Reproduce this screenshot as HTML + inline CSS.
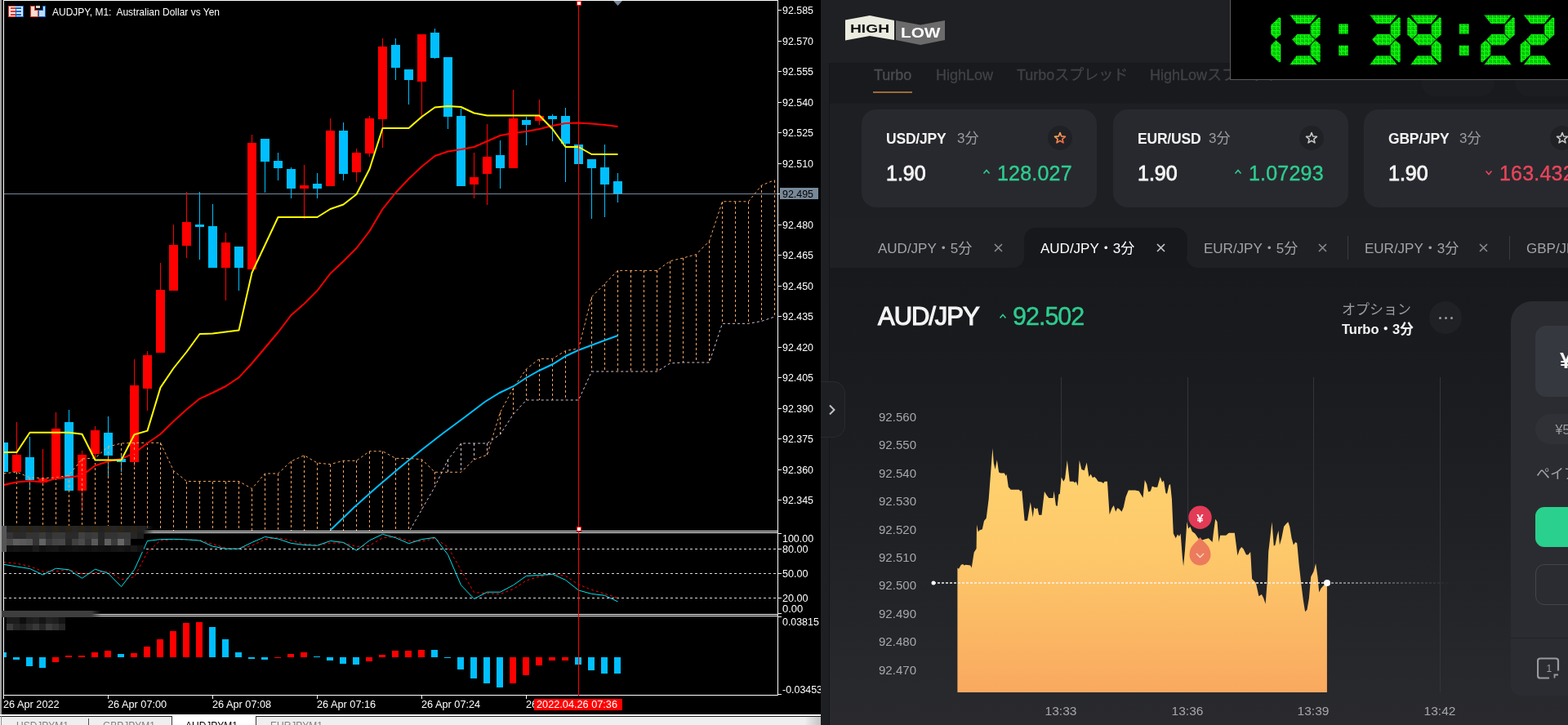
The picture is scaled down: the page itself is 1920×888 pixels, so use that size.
<!DOCTYPE html>
<html><head><meta charset="utf-8"><title>AUDJPY chart and HighLow</title>
<style>
html,body{margin:0;padding:0;width:1920px;height:888px;overflow:hidden;background:#000}

#R{position:absolute;left:1005px;top:0;width:915px;height:888px;overflow:hidden;font-family:"Liberation Sans","Noto Sans CJK JP",sans-serif;}
#R div{box-sizing:border-box}
.hdr{position:absolute;left:0;top:0;width:915px;height:77px;background:#1f2024}
.nav{position:absolute;left:0;top:77px;width:915px;height:190px;background:linear-gradient(#17181b 0px,#191a1d 2px,#191a1d 49px,#1e1f23 51px)}
.navt{position:absolute;top:80px;font-size:18px;color:#414246;line-height:24px;-webkit-text-stroke:0.3px currentColor;white-space:nowrap;font-family:"Liberation Sans","Noto Sans CJK JP",sans-serif}
.ghost{position:absolute;border-radius:17px;background:#1c1d20}
.card{position:absolute;top:134px;width:288px;height:120px;border-radius:18px;background:#28292e}
.cname{position:absolute;top:159px;font-size:17.5px;font-weight:bold;color:#f2f2f2;line-height:22px;letter-spacing:-0.2px}
.cmin{position:absolute;top:159px;font-size:17px;color:#9c9c9f;line-height:22px;font-family:"Liberation Sans","Noto Sans CJK JP",sans-serif}
.cpay{position:absolute;top:198px;font-size:25px;font-weight:normal;color:#f4f4f4;line-height:28px;-webkit-text-stroke:0.85px #f4f4f4}
.cprice{position:absolute;top:198px;font-size:25px;line-height:28px;letter-spacing:0.2px;-webkit-text-stroke:0.4px currentColor}
.starc{position:absolute;top:154px;width:30px;height:30px;border-radius:50%;background:#202125}
.tabrow{position:absolute;left:10px;top:267px;width:905px;height:61px;background:#1f2024}
.tabact{position:absolute;left:249px;top:279px;width:200px;height:60px;border-radius:14px 14px 0 0;background:#17181b}
.tabcorner{position:absolute;top:314px;width:14px;height:14px;background:radial-gradient(circle at 0 0, #1f2024 13.5px, #17181b 14.5px)}
.tabcorner2{position:absolute;top:314px;width:14px;height:14px;background:radial-gradient(circle at 14px 0, #1f2024 13.5px, #17181b 14.5px)}
.tabt{position:absolute;top:294px;font-size:17px;line-height:22px;white-space:nowrap;font-family:"Liberation Sans","Noto Sans CJK JP",sans-serif}
.main{position:absolute;left:10px;top:328px;width:905px;height:560px;background:linear-gradient(#18191c 0px,#1a1b1f 130px,#202125 330px,#28292d 520px,#29292e 560px)}
.side{position:absolute;left:0;top:77px;width:11px;height:811px;background:#1e1f23;border-right:1px solid #151619}
.expand{position:absolute;left:0;top:467px;width:30px;height:69px;border-radius:0 15px 15px 0;background:#1e1f23;border:1px solid #2a2b2f;border-left:none}
.pair{position:absolute;left:70px;top:370px;font-size:31px;font-weight:normal;color:#f4f4f4;line-height:36px;letter-spacing:-1.05px;-webkit-text-stroke:1.15px #f4f4f4}
.pprice{position:absolute;left:235px;top:370px;font-size:30.5px;color:#2ecc8f;line-height:34px;letter-spacing:-1px;-webkit-text-stroke:0.45px #2ecc8f}
.opt1{position:absolute;left:638px;top:368.5px;font-size:17px;color:#9c9c9f;line-height:22px;font-family:"Liberation Sans","Noto Sans CJK JP",sans-serif}
.opt2{position:absolute;left:638px;top:392px;font-size:16.5px;font-weight:bold;color:#f4f4f4;line-height:22px;white-space:nowrap;font-family:"Liberation Sans","Noto Sans CJK JP",sans-serif}
.dots{position:absolute;left:745px;top:369px;width:40px;height:40px;border-radius:50%;background:#202125}
.dots span{position:absolute;top:19px;width:3px;height:3px;border-radius:50%;background:#9a9a9a}
.dots span:nth-child(1){left:12px}.dots span:nth-child(2){left:19px}.dots span:nth-child(3){left:26px}
.rcard{position:absolute;left:845px;top:369px;width:120px;height:483px;border-radius:26px 0 0 12px;background:#2b2c31}
.rin1{position:absolute;left:875px;top:399px;width:80px;height:87px;border-radius:13px;background:#36383f}
.rin1 span{position:absolute;left:30px;top:28px;font-size:27px;font-weight:bold;color:#f4f4f4}
.rpill{position:absolute;left:875px;top:507px;width:80px;height:37px;border-radius:19px;background:#303137;color:#9c9c9f;font-size:16px;line-height:40px;padding-left:24.5px}
.rlab{position:absolute;left:876px;top:570px;font-size:17px;color:#a3a3a6;line-height:22px;white-space:nowrap;font-family:"Liberation Sans","Noto Sans CJK JP",sans-serif}
.rgreen{position:absolute;left:875px;top:621px;width:80px;height:49px;border-radius:11px;background:#2ad08d}
.rout{position:absolute;left:875px;top:691px;width:80px;height:50px;border-radius:11px;border:1px solid #45464c}
.rdiv{position:absolute;left:845px;top:781px;width:80px;height:1px;background:#222327}
#clock{position:absolute;left:1506px;top:0;width:414px;height:98px;background:#000;border-left:1px solid #5a5a5a;border-bottom:1px solid #5a5a5a;box-sizing:border-box;overflow:hidden}

</style></head><body>
<svg width="1005" height="888" viewBox="0 0 1005 888" style="position:absolute;left:0;top:0;display:block">
<defs><clipPath id="cm"><rect x="5" y="1" width="947" height="649"/></clipPath><clipPath id="cs"><rect x="5" y="653" width="947" height="99"/></clipPath><clipPath id="cd"><rect x="5" y="755" width="947" height="96"/></clipPath><linearGradient id="fadeR" x1="0" x2="1" y1="0" y2="0"><stop offset="0" stop-color="#262626" stop-opacity="1"/><stop offset="1" stop-color="#262626" stop-opacity="0"/></linearGradient><linearGradient id="fadeB" x1="0" x2="1" y1="0" y2="0"><stop offset="0" stop-color="#3e3e3e" stop-opacity="1"/><stop offset="1" stop-color="#3e3e3e" stop-opacity="0"/></linearGradient><linearGradient id="sbg" x1="0" x2="1" y1="0" y2="0"><stop offset="0" stop-color="#efefef"/><stop offset="1" stop-color="#c4c4c4"/></linearGradient></defs>
<rect x="0" y="0" width="1005" height="888" fill="#000"/>
<rect x="0" y="0" width="2" height="876" fill="#a0a0a0"/>
<g shape-rendering="crispEdges" fill="#fff">
<rect x="4" y="0" width="949" height="1"/>
<rect x="4" y="0" width="1" height="852"/>
<rect x="952" y="0" width="1" height="852"/>
<rect x="4" y="650" width="949" height="1"/>
<rect x="4" y="652" width="949" height="1"/>
<rect x="4" y="752" width="949" height="1"/>
<rect x="4" y="754" width="949" height="1"/>
<rect x="4" y="851" width="949" height="1"/>
</g>
<g clip-path="url(#cm)">
<rect x="5" y="237" width="947" height="1" fill="#778899" shape-rendering="crispEdges"/>
<g shape-rendering="crispEdges">
<rect x="4" y="542" width="1" height="36" fill="#00bfff"/>
<rect x="-1" y="542" width="11" height="36" fill="#00bfff"/>
<rect x="20" y="517" width="1" height="61" fill="#ff0000"/>
<rect x="15" y="557" width="11" height="21" fill="#ff0000"/>
<rect x="36" y="535" width="1" height="63" fill="#00bfff"/>
<rect x="31" y="560" width="11" height="28" fill="#00bfff"/>
<rect x="52" y="550" width="1" height="42" fill="#ff0000"/>
<rect x="47" y="586" width="11" height="5" fill="#ff0000"/>
<rect x="68" y="505" width="1" height="82" fill="#ff0000"/>
<rect x="63" y="525" width="11" height="62" fill="#ff0000"/>
<rect x="84" y="502" width="1" height="100" fill="#00bfff"/>
<rect x="79" y="517" width="11" height="84" fill="#00bfff"/>
<rect x="100" y="552" width="1" height="74" fill="#ff0000"/>
<rect x="95" y="557" width="11" height="44" fill="#ff0000"/>
<rect x="116" y="522" width="1" height="39" fill="#ff0000"/>
<rect x="111" y="527" width="11" height="29" fill="#ff0000"/>
<rect x="132" y="510" width="1" height="73" fill="#00bfff"/>
<rect x="127" y="530" width="11" height="28" fill="#00bfff"/>
<rect x="148" y="557" width="1" height="21" fill="#00bfff"/>
<rect x="143" y="562" width="11" height="4" fill="#00bfff"/>
<rect x="164" y="440" width="1" height="131" fill="#ff0000"/>
<rect x="159" y="472" width="11" height="94" fill="#ff0000"/>
<rect x="180" y="430" width="1" height="73" fill="#ff0000"/>
<rect x="175" y="435" width="11" height="41" fill="#ff0000"/>
<rect x="196" y="322" width="1" height="110" fill="#ff0000"/>
<rect x="191" y="355" width="11" height="77" fill="#ff0000"/>
<rect x="212" y="275" width="1" height="81" fill="#ff0000"/>
<rect x="207" y="300" width="11" height="56" fill="#ff0000"/>
<rect x="228" y="235" width="1" height="81" fill="#ff0000"/>
<rect x="223" y="272" width="11" height="29" fill="#ff0000"/>
<rect x="244" y="235" width="1" height="83" fill="#00bfff"/>
<rect x="239" y="275" width="11" height="3" fill="#00bfff"/>
<rect x="260" y="250" width="1" height="78" fill="#00bfff"/>
<rect x="255" y="277" width="11" height="51" fill="#00bfff"/>
<rect x="276" y="285" width="1" height="83" fill="#ff0000"/>
<rect x="271" y="297" width="11" height="31" fill="#ff0000"/>
<rect x="292" y="302" width="1" height="54" fill="#00bfff"/>
<rect x="287" y="302" width="11" height="26" fill="#00bfff"/>
<rect x="308" y="165" width="1" height="165" fill="#ff0000"/>
<rect x="303" y="175" width="11" height="155" fill="#ff0000"/>
<rect x="324" y="170" width="1" height="66" fill="#00bfff"/>
<rect x="319" y="170" width="11" height="28" fill="#00bfff"/>
<rect x="340" y="187" width="1" height="34" fill="#00bfff"/>
<rect x="335" y="197" width="11" height="9" fill="#00bfff"/>
<rect x="356" y="205" width="1" height="38" fill="#00bfff"/>
<rect x="351" y="207" width="11" height="24" fill="#00bfff"/>
<rect x="372" y="202" width="1" height="66" fill="#ff0000"/>
<rect x="367" y="227" width="11" height="4" fill="#ff0000"/>
<rect x="388" y="212" width="1" height="31" fill="#00bfff"/>
<rect x="383" y="225" width="11" height="6" fill="#00bfff"/>
<rect x="404" y="145" width="1" height="83" fill="#ff0000"/>
<rect x="399" y="160" width="11" height="68" fill="#ff0000"/>
<rect x="420" y="150" width="1" height="71" fill="#00bfff"/>
<rect x="415" y="160" width="11" height="53" fill="#00bfff"/>
<rect x="436" y="182" width="1" height="41" fill="#ff0000"/>
<rect x="431" y="187" width="11" height="24" fill="#ff0000"/>
<rect x="452" y="142" width="1" height="50" fill="#ff0000"/>
<rect x="447" y="145" width="11" height="43" fill="#ff0000"/>
<rect x="468" y="47" width="1" height="134" fill="#ff0000"/>
<rect x="463" y="57" width="11" height="89" fill="#ff0000"/>
<rect x="484" y="47" width="1" height="51" fill="#00bfff"/>
<rect x="479" y="55" width="11" height="28" fill="#00bfff"/>
<rect x="500" y="85" width="1" height="43" fill="#00bfff"/>
<rect x="495" y="85" width="11" height="13" fill="#00bfff"/>
<rect x="516" y="42" width="1" height="103" fill="#ff0000"/>
<rect x="511" y="42" width="11" height="58" fill="#ff0000"/>
<rect x="532" y="35" width="1" height="37" fill="#00bfff"/>
<rect x="527" y="40" width="11" height="31" fill="#00bfff"/>
<rect x="548" y="70" width="1" height="88" fill="#00bfff"/>
<rect x="543" y="70" width="11" height="73" fill="#00bfff"/>
<rect x="564" y="133" width="1" height="95" fill="#00bfff"/>
<rect x="559" y="142" width="11" height="86" fill="#00bfff"/>
<rect x="580" y="187" width="1" height="56" fill="#ff0000"/>
<rect x="575" y="217" width="11" height="9" fill="#ff0000"/>
<rect x="596" y="152" width="1" height="99" fill="#ff0000"/>
<rect x="591" y="192" width="11" height="21" fill="#ff0000"/>
<rect x="612" y="172" width="1" height="59" fill="#00bfff"/>
<rect x="607" y="190" width="11" height="16" fill="#00bfff"/>
<rect x="628" y="110" width="1" height="96" fill="#ff0000"/>
<rect x="623" y="145" width="11" height="61" fill="#ff0000"/>
<rect x="644" y="143" width="1" height="35" fill="#00bfff"/>
<rect x="639" y="147" width="11" height="6" fill="#00bfff"/>
<rect x="660" y="122" width="1" height="31" fill="#ff0000"/>
<rect x="655" y="142" width="11" height="6" fill="#ff0000"/>
<rect x="676" y="140" width="1" height="33" fill="#00bfff"/>
<rect x="671" y="142" width="11" height="4" fill="#00bfff"/>
<rect x="692" y="132" width="1" height="91" fill="#00bfff"/>
<rect x="687" y="142" width="11" height="34" fill="#00bfff"/>
<rect x="708" y="177" width="1" height="24" fill="#00bfff"/>
<rect x="703" y="177" width="11" height="24" fill="#00bfff"/>
<rect x="724" y="195" width="1" height="73" fill="#00bfff"/>
<rect x="719" y="195" width="11" height="11" fill="#00bfff"/>
<rect x="740" y="177" width="1" height="89" fill="#00bfff"/>
<rect x="735" y="205" width="11" height="21" fill="#00bfff"/>
<rect x="756" y="212" width="1" height="36" fill="#00bfff"/>
<rect x="751" y="222" width="11" height="15" fill="#00bfff"/>
</g>
<g stroke-width="1" stroke-dasharray="3 3" fill="none" shape-rendering="crispEdges">
<line x1="4.5" y1="580.0" x2="4.5" y2="651.0" stroke="#f4a460"/>
<line x1="20.5" y1="578.0" x2="20.5" y2="651.0" stroke="#f4a460"/>
<line x1="36.5" y1="585.0" x2="36.5" y2="651.0" stroke="#f4a460"/>
<line x1="52.5" y1="585.5" x2="52.5" y2="651.0" stroke="#f4a460"/>
<line x1="68.5" y1="585.0" x2="68.5" y2="651.0" stroke="#f4a460"/>
<line x1="84.5" y1="582.0" x2="84.5" y2="651.0" stroke="#f4a460"/>
<line x1="100.5" y1="562.0" x2="100.5" y2="651.0" stroke="#f4a460"/>
<line x1="116.5" y1="561.0" x2="116.5" y2="651.0" stroke="#f4a460"/>
<line x1="132.5" y1="547.0" x2="132.5" y2="651.0" stroke="#f4a460"/>
<line x1="148.5" y1="543.0" x2="148.5" y2="651.0" stroke="#f4a460"/>
<line x1="164.5" y1="542.4" x2="164.5" y2="651.0" stroke="#f4a460"/>
<line x1="180.5" y1="542.4" x2="180.5" y2="651.0" stroke="#f4a460"/>
<line x1="196.5" y1="542.4" x2="196.5" y2="651.0" stroke="#f4a460"/>
<line x1="212.5" y1="576.5" x2="212.5" y2="651.0" stroke="#f4a460"/>
<line x1="228.5" y1="589.5" x2="228.5" y2="651.0" stroke="#f4a460"/>
<line x1="244.5" y1="589.5" x2="244.5" y2="651.0" stroke="#f4a460"/>
<line x1="260.5" y1="589.5" x2="260.5" y2="651.0" stroke="#f4a460"/>
<line x1="276.5" y1="589.5" x2="276.5" y2="651.0" stroke="#f4a460"/>
<line x1="292.5" y1="589.5" x2="292.5" y2="651.0" stroke="#f4a460"/>
<line x1="308.5" y1="598.5" x2="308.5" y2="651.0" stroke="#f4a460"/>
<line x1="324.5" y1="580.0" x2="324.5" y2="651.0" stroke="#f4a460"/>
<line x1="340.5" y1="580.0" x2="340.5" y2="651.0" stroke="#f4a460"/>
<line x1="356.5" y1="565.0" x2="356.5" y2="651.0" stroke="#f4a460"/>
<line x1="372.5" y1="557.7" x2="372.5" y2="651.0" stroke="#f4a460"/>
<line x1="388.5" y1="567.0" x2="388.5" y2="651.0" stroke="#f4a460"/>
<line x1="404.5" y1="568.6" x2="404.5" y2="651.0" stroke="#f4a460"/>
<line x1="420.5" y1="564.3" x2="420.5" y2="651.0" stroke="#f4a460"/>
<line x1="436.5" y1="564.3" x2="436.5" y2="651.0" stroke="#f4a460"/>
<line x1="452.5" y1="552.7" x2="452.5" y2="651.0" stroke="#f4a460"/>
<line x1="468.5" y1="552.7" x2="468.5" y2="651.0" stroke="#f4a460"/>
<line x1="484.5" y1="561.4" x2="484.5" y2="651.0" stroke="#f4a460"/>
<line x1="500.5" y1="561.4" x2="500.5" y2="651.0" stroke="#f4a460"/>
<line x1="516.5" y1="562.7" x2="516.5" y2="624.0" stroke="#f4a460"/>
<line x1="532.5" y1="578.3" x2="532.5" y2="596.0" stroke="#f4a460"/>
<line x1="548.5" y1="563.0" x2="548.5" y2="578.3" stroke="#d8bfd8"/>
<line x1="564.5" y1="543.0" x2="564.5" y2="578.3" stroke="#d8bfd8"/>
<line x1="580.5" y1="543.0" x2="580.5" y2="562.9" stroke="#d8bfd8"/>
<line x1="596.5" y1="543.0" x2="596.5" y2="557.2" stroke="#d8bfd8"/>
<line x1="612.5" y1="505.0" x2="612.5" y2="532.0" stroke="#f4a460"/>
<line x1="628.5" y1="475.4" x2="628.5" y2="507.4" stroke="#f4a460"/>
<line x1="644.5" y1="451.9" x2="644.5" y2="490.0" stroke="#f4a460"/>
<line x1="660.5" y1="439.5" x2="660.5" y2="490.0" stroke="#f4a460"/>
<line x1="676.5" y1="439.5" x2="676.5" y2="490.0" stroke="#f4a460"/>
<line x1="692.5" y1="429.6" x2="692.5" y2="490.0" stroke="#f4a460"/>
<line x1="708.5" y1="427.0" x2="708.5" y2="490.0" stroke="#f4a460"/>
<line x1="724.5" y1="363.8" x2="724.5" y2="455.0" stroke="#f4a460"/>
<line x1="740.5" y1="347.6" x2="740.5" y2="455.0" stroke="#f4a460"/>
<line x1="756.5" y1="331.4" x2="756.5" y2="455.0" stroke="#f4a460"/>
<line x1="772.5" y1="331.4" x2="772.5" y2="455.0" stroke="#f4a460"/>
<line x1="788.5" y1="331.4" x2="788.5" y2="455.0" stroke="#f4a460"/>
<line x1="804.5" y1="331.4" x2="804.5" y2="455.0" stroke="#f4a460"/>
<line x1="820.5" y1="319.7" x2="820.5" y2="445.0" stroke="#f4a460"/>
<line x1="836.5" y1="316.0" x2="836.5" y2="444.0" stroke="#f4a460"/>
<line x1="852.5" y1="311.6" x2="852.5" y2="444.0" stroke="#f4a460"/>
<line x1="868.5" y1="295.4" x2="868.5" y2="444.0" stroke="#f4a460"/>
<line x1="884.5" y1="246.8" x2="884.5" y2="396.3" stroke="#f4a460"/>
<line x1="900.5" y1="246.8" x2="900.5" y2="396.3" stroke="#f4a460"/>
<line x1="916.5" y1="246.8" x2="916.5" y2="396.3" stroke="#f4a460"/>
<line x1="932.5" y1="227.0" x2="932.5" y2="393.4" stroke="#f4a460"/>
<line x1="948.5" y1="220.5" x2="948.5" y2="388.0" stroke="#f4a460"/>
</g>
<polyline points="4.5,580 20.5,578 36.5,585 52.5,585.5 68.5,585 84.5,582 100.5,562 116.5,561 132.5,547 148.5,543 164.5,542.4 180.5,542.4 196.5,542.4 212.5,576.5 228.5,589.5 244.5,589.5 260.5,589.5 276.5,589.5 292.5,589.5 308.5,598.5 324.5,580 340.5,580 356.5,565 372.5,557.7 388.5,567 404.5,568.6 420.5,564.3 436.5,564.3 452.5,552.7 468.5,552.7 484.5,561.4 500.5,561.4 516.5,562.7 532.5,578.3 548.5,578.3 564.5,578.3 580.5,562.9 596.5,557.2 612.5,505 628.5,475.4 644.5,451.9 660.5,439.5 676.5,439.5 692.5,429.6 708.5,427 724.5,363.8 740.5,347.6 756.5,331.4 772.5,331.4 788.5,331.4 804.5,331.4 820.5,319.7 836.5,316 852.5,311.6 868.5,295.4 884.5,246.8 900.5,246.8 916.5,246.8 932.5,227 948.5,220.5" fill="none" stroke="#f4a460" stroke-width="1" stroke-dasharray="3 3"/>
<polyline points="484.5,700 500.5,652 516.5,624 532.5,596 548.5,563 564.5,543 580.5,543 596.5,543 612.5,532 628.5,507.4 644.5,490 660.5,490 676.5,490 692.5,490 708.5,490 724.5,455 740.5,455 756.5,455 772.5,455 788.5,455 804.5,455 820.5,445 836.5,444 852.5,444 868.5,444 884.5,396.3 900.5,396.3 916.5,396.3 932.5,393.4 948.5,388" fill="none" stroke="#d8bfd8" stroke-width="1" stroke-dasharray="3 3"/>
<polyline points="405,649 434,621 461,597 488,574 515,552 542,531 569,511 594,492 612,481 629,473 644,463 660,454 677,446 693,436 708,429 724,423 740,417 756.5,411" fill="none" stroke="#00bfff" stroke-width="2"/>
<polyline points="4.5,594 20.5,590.5 36.5,589 52.5,590.5 68.5,586 84.5,584.4 100.5,582.4 116.5,570.2 132.5,565.1 148.5,562.1 164.5,555 180.5,542.8 196.5,531.7 212.5,516 228.5,501.5 244.5,488.3 260.5,481 276.5,473 292.5,462.4 308.5,445 324.5,426 340.5,407 356.5,386 372.5,372 388.5,356 404.5,335 420.5,320 436.5,304 452.5,283 468.5,256 484.5,236 500.5,219 516.5,204 532.5,191 548.5,185.5 564.5,183 580.5,180 596.5,173 612.5,166 628.5,163 644.5,161 660.5,158 676.5,154 692.5,151 708.5,150.5 724.5,151.5 740.5,153 756.5,155" fill="none" stroke="#ff0000" stroke-width="2" stroke-linejoin="round"/>
<polyline points="4.5,554 20.5,554 36.5,529.7 52.5,529.7 68.5,529.7 84.5,529.7 100.5,531.7 116.5,563.5 132.5,563.5 148.5,563.5 164.5,532.3 180.5,527.6 196.5,474.6 212.5,451 228.5,431 244.5,409 260.5,408.5 276.5,406.5 292.5,404.6 308.5,334 324.5,300 340.5,266 356.5,266 372.5,266 388.5,266 404.5,256 420.5,250.5 436.5,238 452.5,207 468.5,157 484.5,157 500.5,157 516.5,143 532.5,131.5 548.5,130 564.5,131 580.5,138.5 596.5,141.5 612.5,141.5 628.5,141.5 644.5,141.5 660.5,141.5 676.5,158 692.5,180 708.5,180 724.5,189 740.5,189 756.5,189" fill="none" stroke="#ffff00" stroke-width="2" stroke-linejoin="round"/>
</g>
<g clip-path="url(#cs)">
<line x1="5" y1="672.5" x2="952" y2="672.5" stroke="#d8d8d8" stroke-width="1" stroke-dasharray="3 3"/>
<line x1="5" y1="702.5" x2="952" y2="702.5" stroke="#d8d8d8" stroke-width="1" stroke-dasharray="3 3"/>
<line x1="5" y1="732.5" x2="952" y2="732.5" stroke="#d8d8d8" stroke-width="1" stroke-dasharray="3 3"/>
<polyline points="4.5,688.6 20.5,690.2 36.5,693.6 52.5,700 68.5,699.7 84.5,697.8 100.5,702.9 116.5,701.6 132.5,699.7 148.5,709.8 164.5,706.6 180.5,676.4 196.5,661.9 212.5,660.6 228.5,661 244.5,661.6 260.5,666.3 276.5,671.3 292.5,672 308.5,668.2 324.5,660.6 340.5,658.7 356.5,661.9 372.5,666.3 388.5,667.5 404.5,665 420.5,665 436.5,669.4 452.5,668.2 468.5,658.7 484.5,657.5 500.5,662.5 516.5,663.1 532.5,659.3 548.5,670 564.5,698.4 580.5,725.5 596.5,726.8 612.5,727.7 628.5,721.4 644.5,711 660.5,706 676.5,703.2 692.5,705.4 708.5,716 724.5,722.4 740.5,727.2 756.5,732.5" fill="none" stroke="#ff0000" stroke-width="1" stroke-dasharray="3 3"/>
<polyline points="4.5,691.3 20.5,694 36.5,696.5 52.5,704 68.5,696.2 84.5,697.8 100.5,708.3 116.5,697.2 132.5,702.2 148.5,718.6 164.5,697.8 180.5,662.5 196.5,660.6 212.5,660.4 228.5,660.9 244.5,662.1 260.5,669.2 276.5,672.2 292.5,672.2 308.5,664.4 324.5,657.5 340.5,660 356.5,665.4 372.5,667.5 388.5,668.2 404.5,662.5 420.5,664.4 436.5,674.2 452.5,661.9 468.5,654.3 484.5,658.7 500.5,665.7 516.5,660.6 532.5,658.3 548.5,679.5 564.5,716.7 580.5,733.5 596.5,725.2 612.5,725.2 628.5,716.7 644.5,705.4 660.5,704.5 676.5,703.2 692.5,710.4 708.5,723 724.5,727.4 740.5,729.3 756.5,736.9" fill="none" stroke="#00e5ee" stroke-width="1"/>
</g>
<g clip-path="url(#cd)" shape-rendering="crispEdges">
<rect x="0" y="799" width="8" height="6" fill="#00bfff"/>
<rect x="16" y="805" width="8" height="3" fill="#00bfff"/>
<rect x="32" y="805" width="8" height="11" fill="#00bfff"/>
<rect x="48" y="805" width="8" height="13" fill="#00bfff"/>
<rect x="64" y="805" width="8" height="6" fill="#ff0000"/>
<rect x="80" y="803" width="8" height="2" fill="#ff0000"/>
<rect x="96" y="803" width="8" height="2" fill="#ff0000"/>
<rect x="112" y="799" width="8" height="6" fill="#ff0000"/>
<rect x="128" y="797" width="8" height="8" fill="#ff0000"/>
<rect x="144" y="801" width="8" height="4" fill="#00bfff"/>
<rect x="160" y="800" width="8" height="5" fill="#ff0000"/>
<rect x="176" y="792" width="8" height="13" fill="#ff0000"/>
<rect x="192" y="783" width="8" height="22" fill="#ff0000"/>
<rect x="208" y="773" width="8" height="32" fill="#ff0000"/>
<rect x="224" y="763" width="8" height="42" fill="#ff0000"/>
<rect x="240" y="762" width="8" height="43" fill="#ff0000"/>
<rect x="256" y="768" width="8" height="37" fill="#00bfff"/>
<rect x="272" y="783" width="8" height="22" fill="#00bfff"/>
<rect x="288" y="799" width="8" height="6" fill="#00bfff"/>
<rect x="304" y="805" width="8" height="2" fill="#00bfff"/>
<rect x="320" y="805" width="8" height="3" fill="#00bfff"/>
<rect x="336" y="805" width="8" height="1" fill="#ff0000"/>
<rect x="352" y="801" width="8" height="4" fill="#ff0000"/>
<rect x="368" y="799" width="8" height="6" fill="#ff0000"/>
<rect x="384" y="804" width="8" height="1" fill="#00bfff"/>
<rect x="400" y="805" width="8" height="4" fill="#00bfff"/>
<rect x="416" y="805" width="8" height="8" fill="#00bfff"/>
<rect x="432" y="805" width="8" height="9" fill="#00bfff"/>
<rect x="448" y="805" width="8" height="5" fill="#ff0000"/>
<rect x="464" y="802" width="8" height="3" fill="#ff0000"/>
<rect x="480" y="797" width="8" height="8" fill="#ff0000"/>
<rect x="496" y="797" width="8" height="8" fill="#ff0000"/>
<rect x="512" y="796" width="8" height="9" fill="#ff0000"/>
<rect x="528" y="796" width="8" height="9" fill="#00bfff"/>
<rect x="544" y="805" width="8" height="1" fill="#00bfff"/>
<rect x="560" y="805" width="8" height="15" fill="#00bfff"/>
<rect x="576" y="805" width="8" height="26" fill="#00bfff"/>
<rect x="592" y="805" width="8" height="32" fill="#00bfff"/>
<rect x="608" y="805" width="8" height="37" fill="#00bfff"/>
<rect x="624" y="805" width="8" height="32" fill="#ff0000"/>
<rect x="640" y="805" width="8" height="22" fill="#ff0000"/>
<rect x="656" y="805" width="8" height="10" fill="#ff0000"/>
<rect x="672" y="805" width="8" height="4" fill="#ff0000"/>
<rect x="688" y="805" width="8" height="4" fill="#ff0000"/>
<rect x="704" y="805" width="8" height="9" fill="#00bfff"/>
<rect x="720" y="805" width="8" height="16" fill="#00bfff"/>
<rect x="736" y="805" width="8" height="20" fill="#00bfff"/>
<rect x="752" y="805" width="8" height="20" fill="#00bfff"/>
</g>
<rect x="708" y="1" width="1" height="851" fill="#ff0000" shape-rendering="crispEdges"/>
<rect x="706" y="1" width="5" height="5" fill="#fff" stroke="#ff0000" stroke-width="1" shape-rendering="crispEdges"/>
<rect x="706" y="645" width="5" height="5" fill="#fff" stroke="#ff0000" stroke-width="1" shape-rendering="crispEdges"/>
<polygon points="751,1 762,1 756.5,7" fill="#778899"/>
<g font-family="Liberation Sans, Arial, sans-serif" font-size="12" fill="#fff">
<rect x="953" y="12" width="4" height="1" fill="#fff" shape-rendering="crispEdges"/>
<text x="958" y="17.1" textLength="38" lengthAdjust="spacingAndGlyphs">92.585</text>
<rect x="953" y="50" width="4" height="1" fill="#fff" shape-rendering="crispEdges"/>
<text x="958" y="54.6" textLength="38" lengthAdjust="spacingAndGlyphs">92.570</text>
<rect x="953" y="87" width="4" height="1" fill="#fff" shape-rendering="crispEdges"/>
<text x="958" y="92.1" textLength="38" lengthAdjust="spacingAndGlyphs">92.555</text>
<rect x="953" y="125" width="4" height="1" fill="#fff" shape-rendering="crispEdges"/>
<text x="958" y="129.6" textLength="38" lengthAdjust="spacingAndGlyphs">92.540</text>
<rect x="953" y="162" width="4" height="1" fill="#fff" shape-rendering="crispEdges"/>
<text x="958" y="167.1" textLength="38" lengthAdjust="spacingAndGlyphs">92.525</text>
<rect x="953" y="200" width="4" height="1" fill="#fff" shape-rendering="crispEdges"/>
<text x="958" y="204.6" textLength="38" lengthAdjust="spacingAndGlyphs">92.510</text>
<rect x="953" y="237" width="4" height="1" fill="#fff" shape-rendering="crispEdges"/>
<text x="958" y="242.1" textLength="38" lengthAdjust="spacingAndGlyphs">92.495</text>
<rect x="953" y="275" width="4" height="1" fill="#fff" shape-rendering="crispEdges"/>
<text x="958" y="279.6" textLength="38" lengthAdjust="spacingAndGlyphs">92.480</text>
<rect x="953" y="312" width="4" height="1" fill="#fff" shape-rendering="crispEdges"/>
<text x="958" y="317.1" textLength="38" lengthAdjust="spacingAndGlyphs">92.465</text>
<rect x="953" y="350" width="4" height="1" fill="#fff" shape-rendering="crispEdges"/>
<text x="958" y="354.6" textLength="38" lengthAdjust="spacingAndGlyphs">92.450</text>
<rect x="953" y="387" width="4" height="1" fill="#fff" shape-rendering="crispEdges"/>
<text x="958" y="392.1" textLength="38" lengthAdjust="spacingAndGlyphs">92.435</text>
<rect x="953" y="425" width="4" height="1" fill="#fff" shape-rendering="crispEdges"/>
<text x="958" y="429.6" textLength="38" lengthAdjust="spacingAndGlyphs">92.420</text>
<rect x="953" y="462" width="4" height="1" fill="#fff" shape-rendering="crispEdges"/>
<text x="958" y="467.1" textLength="38" lengthAdjust="spacingAndGlyphs">92.405</text>
<rect x="953" y="500" width="4" height="1" fill="#fff" shape-rendering="crispEdges"/>
<text x="958" y="504.6" textLength="38" lengthAdjust="spacingAndGlyphs">92.390</text>
<rect x="953" y="537" width="4" height="1" fill="#fff" shape-rendering="crispEdges"/>
<text x="958" y="542.1" textLength="38" lengthAdjust="spacingAndGlyphs">92.375</text>
<rect x="953" y="575" width="4" height="1" fill="#fff" shape-rendering="crispEdges"/>
<text x="958" y="579.6" textLength="38" lengthAdjust="spacingAndGlyphs">92.360</text>
<rect x="953" y="612" width="4" height="1" fill="#fff" shape-rendering="crispEdges"/>
<text x="958" y="617.1" textLength="38" lengthAdjust="spacingAndGlyphs">92.345</text>
</g>
<rect x="955" y="230" width="47" height="14" fill="#778899"/>
<text x="958" y="241.7" font-family="Liberation Sans, Arial, sans-serif" font-size="12" fill="#000" textLength="38" lengthAdjust="spacingAndGlyphs">92.495</text>
<g font-family="Liberation Sans, Arial, sans-serif" font-size="12" fill="#fff" shape-rendering="crispEdges">
<rect x="953" y="653" width="4" height="1"/>
<text x="958" y="664" textLength="38.1" lengthAdjust="spacingAndGlyphs">100.00</text>
<rect x="953" y="672" width="4" height="1"/>
<text x="958" y="676.7" textLength="31.6" lengthAdjust="spacingAndGlyphs">80.00</text>
<rect x="953" y="702" width="4" height="1"/>
<text x="958" y="706.6" textLength="31.6" lengthAdjust="spacingAndGlyphs">50.00</text>
<rect x="953" y="732" width="4" height="1"/>
<text x="958" y="737" textLength="31.6" lengthAdjust="spacingAndGlyphs">20.00</text>
<rect x="953" y="751" width="4" height="1"/>
<text x="958" y="749.8" textLength="25.2" lengthAdjust="spacingAndGlyphs">0.00</text>
<rect x="953" y="755" width="4" height="1"/><text x="958" y="766" textLength="44.8" lengthAdjust="spacingAndGlyphs">0.03815</text>
<rect x="953" y="850" width="4" height="1"/><text x="958" y="849" textLength="49" lengthAdjust="spacingAndGlyphs">-0.03453</text>
</g>
<g font-family="Liberation Sans, Arial, sans-serif" font-size="12" fill="#fff">
<rect x="4" y="852" width="1" height="4" shape-rendering="crispEdges"/>
<text x="4" y="867" textLength="68.7" lengthAdjust="spacingAndGlyphs">26 Apr 2022</text>
<rect x="132" y="852" width="1" height="4" shape-rendering="crispEdges"/>
<text x="132" y="867" textLength="72.2" lengthAdjust="spacingAndGlyphs">26 Apr 07:00</text>
<rect x="260" y="852" width="1" height="4" shape-rendering="crispEdges"/>
<text x="260" y="867" textLength="72.2" lengthAdjust="spacingAndGlyphs">26 Apr 07:08</text>
<rect x="388" y="852" width="1" height="4" shape-rendering="crispEdges"/>
<text x="388" y="867" textLength="72.2" lengthAdjust="spacingAndGlyphs">26 Apr 07:16</text>
<rect x="516" y="852" width="1" height="4" shape-rendering="crispEdges"/>
<text x="516" y="867" textLength="72.2" lengthAdjust="spacingAndGlyphs">26 Apr 07:24</text>
<rect x="644" y="852" width="1" height="4" shape-rendering="crispEdges"/>
<text x="644" y="867" textLength="72.2" lengthAdjust="spacingAndGlyphs">26 Apr 07:32</text>
</g>
<rect x="654" y="856" width="108" height="14" fill="#ff0000"/>
<text x="657" y="867" font-family="Liberation Sans, Arial, sans-serif" font-size="12" fill="#fff" textLength="99" lengthAdjust="spacingAndGlyphs">2022.04.26 07:36</text>
<g shape-rendering="crispEdges">
<rect x="10.5" y="7.5" width="9" height="13" fill="#fbe0dc" stroke="#e03a2f"/>
<rect x="19.5" y="7.5" width="9" height="13" fill="#cfe6fb" stroke="#1565c0"/>
<rect x="11" y="8" width="17" height="1" fill="#fff"/>
<rect x="13" y="9" width="6" height="1.5" fill="#e03a2f"/><rect x="20" y="9" width="6" height="1.5" fill="#1565c0"/>
<rect x="13" y="13" width="6" height="1.5" fill="#e03a2f"/><rect x="20" y="13" width="6" height="1.5" fill="#1565c0"/>
<rect x="13" y="17" width="6" height="1.5" fill="#e03a2f"/><rect x="20" y="17" width="6" height="1.5" fill="#1565c0"/>
<path d="M37.5 7.5 H42.5 V12.5 H46.5 V20.5 H37.5 Z" fill="#fddcd0" stroke="#e03a2f"/>
<path d="M50.5 12.5 H52.5 V7.5 H55.5 V20.5 H47.5 V12.5 Z" fill="#bcdcf7" stroke="#1565c0"/>
<rect x="44" y="7" width="5" height="3" fill="#d0d0d0"/>
</g>
<text x="64" y="19" font-family="Liberation Sans, Arial, sans-serif" font-size="12" fill="#fff" style="white-space:pre" textLength="205" lengthAdjust="spacingAndGlyphs">AUDJPY, M1:  Australian Dollar vs Yen</text>
<g shape-rendering="crispEdges">
<rect x="8" y="644" width="8" height="8" fill="#242424"/>
<rect x="8" y="652" width="8" height="8" fill="#333"/>
<rect x="8" y="660" width="8" height="8" fill="#4a4a4a"/>
<rect x="8" y="668" width="8" height="8" fill="#121212"/>
<rect x="16" y="644" width="8" height="8" fill="#2a2418"/>
<rect x="16" y="652" width="8" height="8" fill="#2a2a2a"/>
<rect x="16" y="660" width="8" height="8" fill="#5e5e5e"/>
<rect x="16" y="668" width="8" height="8" fill="#141414"/>
<rect x="24" y="644" width="8" height="8" fill="#262626"/>
<rect x="24" y="652" width="8" height="8" fill="#2a2a2a"/>
<rect x="24" y="660" width="8" height="8" fill="#5a5a5a"/>
<rect x="24" y="668" width="8" height="8" fill="#121212"/>
<rect x="32" y="644" width="8" height="8" fill="#2a2418"/>
<rect x="32" y="652" width="8" height="8" fill="#333"/>
<rect x="32" y="660" width="8" height="8" fill="#555"/>
<rect x="32" y="668" width="8" height="8" fill="#121212"/>
<rect x="40" y="644" width="8" height="8" fill="#262626"/>
<rect x="40" y="652" width="8" height="8" fill="#333"/>
<rect x="40" y="660" width="8" height="8" fill="#333"/>
<rect x="40" y="668" width="8" height="8" fill="#1a1a1a"/>
<rect x="48" y="644" width="8" height="8" fill="#2a2418"/>
<rect x="48" y="652" width="8" height="8" fill="#3a3a3a"/>
<rect x="48" y="660" width="8" height="8" fill="#626262"/>
<rect x="48" y="668" width="8" height="8" fill="#101010"/>
<rect x="56" y="644" width="8" height="8" fill="#222"/>
<rect x="56" y="652" width="8" height="8" fill="#2e2e2e"/>
<rect x="56" y="660" width="8" height="8" fill="#3a3a3a"/>
<rect x="56" y="668" width="8" height="8" fill="#141414"/>
<rect x="64" y="644" width="8" height="8" fill="#2a2418"/>
<rect x="64" y="652" width="8" height="8" fill="#383838"/>
<rect x="64" y="660" width="8" height="8" fill="#454545"/>
<rect x="64" y="668" width="8" height="8" fill="#161616"/>
<rect x="72" y="644" width="8" height="8" fill="#222"/>
<rect x="72" y="652" width="8" height="8" fill="#383838"/>
<rect x="72" y="660" width="8" height="8" fill="#474747"/>
<rect x="72" y="668" width="8" height="8" fill="#101010"/>
<rect x="80" y="644" width="8" height="8" fill="#2a2418"/>
<rect x="80" y="652" width="8" height="8" fill="#2a2a2a"/>
<rect x="80" y="660" width="8" height="8" fill="#262626"/>
<rect x="80" y="668" width="8" height="8" fill="#121212"/>
<rect x="88" y="644" width="8" height="8" fill="#262626"/>
<rect x="88" y="652" width="8" height="8" fill="#2a2a2a"/>
<rect x="88" y="660" width="8" height="8" fill="#404040"/>
<rect x="88" y="668" width="8" height="8" fill="#141414"/>
<rect x="96" y="644" width="8" height="8" fill="#2a2418"/>
<rect x="96" y="652" width="8" height="8" fill="#404040"/>
<rect x="96" y="660" width="8" height="8" fill="#4a4a4a"/>
<rect x="96" y="668" width="8" height="8" fill="#121212"/>
<rect x="104" y="644" width="8" height="8" fill="#222"/>
<rect x="104" y="652" width="8" height="8" fill="#383838"/>
<rect x="104" y="660" width="8" height="8" fill="#333"/>
<rect x="104" y="668" width="8" height="8" fill="#101010"/>
<rect x="112" y="644" width="8" height="8" fill="#2a2418"/>
<rect x="112" y="652" width="8" height="8" fill="#3c3c3c"/>
<rect x="112" y="660" width="8" height="8" fill="#5a5a5a"/>
<rect x="112" y="668" width="8" height="8" fill="#141414"/>
<rect x="120" y="644" width="8" height="8" fill="#222"/>
<rect x="120" y="652" width="8" height="8" fill="#262626"/>
<rect x="120" y="660" width="8" height="8" fill="#262626"/>
<rect x="120" y="668" width="8" height="8" fill="#121212"/>
<rect x="128" y="644" width="8" height="8" fill="#2a2418"/>
<rect x="128" y="652" width="8" height="8" fill="#333"/>
<rect x="128" y="660" width="8" height="8" fill="#5e5e5e"/>
<rect x="128" y="668" width="8" height="8" fill="#101010"/>
<rect x="136" y="644" width="8" height="8" fill="#262626"/>
<rect x="136" y="652" width="8" height="8" fill="#333"/>
<rect x="136" y="660" width="8" height="8" fill="#3a3a3a"/>
<rect x="136" y="668" width="8" height="8" fill="#141414"/>
<rect x="144" y="644" width="8" height="8" fill="#2a2418"/>
<rect x="144" y="652" width="8" height="8" fill="#383838"/>
<rect x="144" y="660" width="8" height="8" fill="#666"/>
<rect x="144" y="668" width="8" height="8" fill="#161616"/>
<rect x="152" y="644" width="8" height="8" fill="#222"/>
<rect x="152" y="652" width="8" height="8" fill="#383838"/>
<rect x="152" y="660" width="8" height="8" fill="#3c3c3c"/>
<rect x="152" y="668" width="8" height="8" fill="#121212"/>
<rect x="160" y="644" width="8" height="8" fill="#2a2418"/>
<rect x="160" y="652" width="8" height="8" fill="#262626"/>
<rect x="160" y="660" width="8" height="8" fill="#000"/>
<rect x="160" y="668" width="8" height="8" fill="#181818"/>
<rect x="168" y="644" width="8" height="8" fill="#222"/>
<rect x="168" y="652" width="8" height="8" fill="#1e1e1e"/>
<rect x="168" y="660" width="8" height="8" fill="#000"/>
<rect x="168" y="668" width="8" height="8" fill="#101010"/>
<rect x="2" y="644" width="6" height="32" fill="#555"/>
<rect x="2" y="748" width="110" height="8" fill="#3e3e3e"/>
<rect x="8" y="756" width="8" height="8" fill="#1c1c1c"/>
<rect x="8" y="764" width="8" height="8" fill="#3a3a3a"/>
<rect x="16" y="756" width="8" height="8" fill="#1c1c1c"/>
<rect x="16" y="764" width="8" height="8" fill="#262626"/>
<rect x="24" y="756" width="8" height="8" fill="#0e0e0e"/>
<rect x="24" y="764" width="8" height="8" fill="#202020"/>
<rect x="32" y="756" width="8" height="8" fill="#1c1c1c"/>
<rect x="32" y="764" width="8" height="8" fill="#2c2c2c"/>
<rect x="40" y="756" width="8" height="8" fill="#202020"/>
<rect x="40" y="764" width="8" height="8" fill="#383838"/>
<rect x="48" y="756" width="8" height="8" fill="#151515"/>
<rect x="48" y="764" width="8" height="8" fill="#262626"/>
<rect x="56" y="756" width="8" height="8" fill="#222"/>
<rect x="56" y="764" width="8" height="8" fill="#3c3c3c"/>
<rect x="64" y="756" width="8" height="8" fill="#1e1e1e"/>
<rect x="64" y="764" width="8" height="8" fill="#323232"/>
<rect x="72" y="756" width="8" height="8" fill="#141414"/>
<rect x="72" y="764" width="8" height="8" fill="#262626"/>
</g>
<rect x="176" y="644" width="12" height="10" fill="url(#fadeR)"/>
<rect x="112" y="748" width="12" height="8" fill="url(#fadeB)"/>
<g shape-rendering="crispEdges">
<rect x="0" y="875" width="1005" height="13" fill="#fff"/>
<rect x="0" y="877" width="211" height="1" fill="#1e1e1e"/>
<rect x="313" y="877" width="692" height="1" fill="#1e1e1e"/>
<rect x="2" y="878" width="208" height="10" fill="#efefef"/>
<rect x="314" y="878" width="691" height="10" fill="#efefef"/>
<rect x="985" y="878" width="20" height="10" fill="url(#sbg)"/>
<rect x="1" y="877" width="1" height="11" fill="#8a8a8a"/>
<rect x="108" y="880" width="1" height="8" fill="#505050"/>
<rect x="210" y="877" width="1" height="11" fill="#3a3a3a"/>
<rect x="313" y="877" width="1" height="11" fill="#3a3a3a"/>
</g>
<g font-family="Liberation Sans, Arial, sans-serif" font-size="12">
<text x="20" y="893.3" fill="#808080">USDJPYM1</text>
<text x="126" y="893.3" fill="#808080">GBPJPYM1</text>
<text x="227" y="892.5" fill="#000">AUDJPYM1</text>
<text x="331" y="893.3" fill="#808080">EURJPYM1</text>
</g>
</svg>
<div id="R">
<div class="hdr"></div>
<svg style="position:absolute;left:30px;top:18px" width="125" height="40" viewBox="1035 18 125 40"><polygon points="1035,24.5 1065,19 1095,25 1095,49 1065,44 1035,49.5" fill="#ebebdf"/><polygon points="1097,25 1127,30.5 1157,25 1157,49 1127,55 1097,49" fill="#6b6b6b"/><text x="1041" y="39.6" font-family="Liberation Sans, sans-serif" font-weight="bold" font-size="15.5" fill="#111" textLength="48" lengthAdjust="spacingAndGlyphs">HIGH</text><text x="1103" y="45.8" font-family="Liberation Sans, sans-serif" font-weight="bold" font-size="15.7" fill="#fff" textLength="48.5" lengthAdjust="spacingAndGlyphs">LOW</text></svg>
<div class="nav"></div>
<div class="navt" style="left:65px;color:#4d4d51">Turbo</div>
<div class="navt" style="left:141px">HighLow</div>
<div class="navt" style="left:240px">Turboスプレッド</div>
<div class="navt" style="left:403px">HighLowスプレッド</div>
<div style="position:absolute;left:64px;top:112px;width:48px;height:2px;background:#9a6a3a"></div>
<div class="ghost" style="left:735px;top:84px;width:90px;height:34px"></div>
<div class="ghost" style="left:850px;top:84px;width:90px;height:34px"></div>
<div class="card" style="left:50px"></div>
<div class="cname" style="left:80px">USD/JPY</div>
<div class="cmin" style="left:167px">3分</div>
<div class="cpay" style="left:80px">1.90</div>
<div class="cprice" style="left:216px;color:#2ecc8f">128.027</div>
<svg style="position:absolute;left:198px;top:206px" width="10" height="8"><polyline points="1.5,6.5 5,2.5 8.5,6.5" fill="none" stroke="#2ecc8f" stroke-width="1.6"/></svg>
<div class="starc" style="left:278px"></div>
<svg style="position:absolute;left:284px;top:160px" width="18" height="18"><defs><linearGradient id="sg" x1="0" x2="1" y1="0" y2="1"><stop offset="0" stop-color="#f8c15c"/><stop offset="1" stop-color="#f0574a"/></linearGradient></defs><polygon points="9.00,2.60 10.76,6.97 15.47,7.30 11.85,10.33 13.00,14.90 9.00,12.40 5.00,14.90 6.15,10.33 2.53,7.30 7.24,6.97" fill="none" stroke="url(#sg)" stroke-width="1.7" stroke-linejoin="round"/></svg>
<div class="card" style="left:358px"></div>
<div class="cname" style="left:388px">EUR/USD</div>
<div class="cmin" style="left:475px">3分</div>
<div class="cpay" style="left:388px">1.90</div>
<div class="cprice" style="left:524px;color:#2ecc8f">1.07293</div>
<svg style="position:absolute;left:506px;top:206px" width="10" height="8"><polyline points="1.5,6.5 5,2.5 8.5,6.5" fill="none" stroke="#2ecc8f" stroke-width="1.6"/></svg>
<div class="starc" style="left:586px"></div>
<svg style="position:absolute;left:592px;top:160px" width="18" height="18"><polygon points="9.00,2.60 10.76,6.97 15.47,7.30 11.85,10.33 13.00,14.90 9.00,12.40 5.00,14.90 6.15,10.33 2.53,7.30 7.24,6.97" fill="none" stroke="#c8c8c8" stroke-width="1.6" stroke-linejoin="round"/></svg>
<div class="card" style="left:665px"></div>
<div class="cname" style="left:695px">GBP/JPY</div>
<div class="cmin" style="left:782px">3分</div>
<div class="cpay" style="left:695px">1.90</div>
<div class="cprice" style="left:831px;color:#e8455a">163.432</div>
<svg style="position:absolute;left:813px;top:208px" width="10" height="8"><polyline points="1.5,1.5 5,5.5 8.5,1.5" fill="none" stroke="#e8455a" stroke-width="1.6"/></svg>
<div class="starc" style="left:893px"></div>
<svg style="position:absolute;left:899px;top:160px" width="18" height="18"><polygon points="9.00,2.60 10.76,6.97 15.47,7.30 11.85,10.33 13.00,14.90 9.00,12.40 5.00,14.90 6.15,10.33 2.53,7.30 7.24,6.97" fill="none" stroke="#c8c8c8" stroke-width="1.6" stroke-linejoin="round"/></svg>
<div class="tabrow"></div>
<div class="tabact"></div>
<div class="tabcorner" style="left:235px"></div>
<div class="tabcorner2" style="left:448px"></div>
<div class="tabt" style="left:70px;color:#a3a3a6">AUD/JPY・5分</div>
<svg style="position:absolute;left:212px;top:298px" width="11" height="11"><path d="M1,1 L10,10 M10,1 L1,10" stroke="#8a8a8d" stroke-width="1.6"/></svg>
<div class="tabt" style="left:269px;color:#ffffff">AUD/JPY・3分</div>
<svg style="position:absolute;left:411px;top:298px" width="11" height="11"><path d="M1,1 L10,10 M10,1 L1,10" stroke="#c8c8c8" stroke-width="1.6"/></svg>
<div class="tabt" style="left:469px;color:#a3a3a6">EUR/JPY・5分</div>
<svg style="position:absolute;left:609px;top:298px" width="11" height="11"><path d="M1,1 L10,10 M10,1 L1,10" stroke="#8a8a8d" stroke-width="1.6"/></svg>
<div class="tabt" style="left:666px;color:#a3a3a6">EUR/JPY・3分</div>
<svg style="position:absolute;left:806px;top:298px" width="11" height="11"><path d="M1,1 L10,10 M10,1 L1,10" stroke="#8a8a8d" stroke-width="1.6"/></svg>
<div class="tabt" style="left:864px;color:#a3a3a6">GBP/JPY・3分</div>
<svg style="position:absolute;left:1010px;top:298px" width="11" height="11"><path d="M1,1 L10,10 M10,1 L1,10" stroke="#8a8a8d" stroke-width="1.6"/></svg>
<div style="position:absolute;left:645px;top:289px;width:1px;height:29px;background:#3a3b40"></div>
<div style="position:absolute;left:843px;top:289px;width:1px;height:29px;background:#3a3b40"></div>
<div class="main"></div>
<div class="side"></div>
<div class="expand"><svg width="10" height="14" style="position:absolute;left:9px;top:27px"><polyline points="2,1.5 7.5,7 2,12.5" fill="none" stroke="#c0c0c0" stroke-width="2"/></svg></div>
<div class="pair">AUD/JPY</div>
<svg style="position:absolute;left:218px;top:383px" width="10" height="8"><polyline points="1.5,6.5 5,2.5 8.5,6.5" fill="none" stroke="#2ecc8f" stroke-width="1.6"/></svg>
<div class="pprice">92.502</div>
<div class="opt1">オプション</div>
<div class="opt2">Turbo・3分</div>
<div class="dots"><span></span><span></span><span></span></div>
<div class="rcard"></div>
<div class="rin1"><span>¥</span></div>
<div class="rpill">¥5</div>
<div class="rlab">ペイアウト</div>
<div class="rgreen"></div>
<div class="rout"></div>
<div class="rdiv"></div>
<svg style="position:absolute;left:877px;top:804px" width="30" height="30"><path d="M19,26.5 H8 Q5,26.5 5,23.5 V5.5 Q5,2.5 8,2.5 H27 Q30,2.5 30,5.5 V17.5" transform="translate(-4,0)" fill="none" stroke="#9a9a9d" stroke-width="2.2"/><path d="M21.5,26.5 V22.5 H26" fill="none" stroke="#9a9a9d" stroke-width="1.8"/><text x="11.5" y="19" font-family="Liberation Sans, sans-serif" font-size="12" fill="#9a9a9d">1</text></svg>
</div>
<svg style="position:absolute;left:0;top:0" width="1920" height="888" viewBox="0 0 1920 888">
<defs><linearGradient id="ag" x1="0" x2="0" y1="548" y2="848" gradientUnits="userSpaceOnUse"><stop offset="0" stop-color="#ffd36f"/><stop offset="0.45" stop-color="#fdc86a"/><stop offset="1" stop-color="#f9a95f"/></linearGradient></defs>
<rect x="1299" y="462" width="1" height="386" fill="#34353a"/>
<rect x="1454" y="462" width="1" height="386" fill="#34353a"/>
<rect x="1608" y="462" width="1" height="386" fill="#34353a"/>
<rect x="1763" y="462" width="1" height="386" fill="#34353a"/>
<path d="M1172.4,848 L1172.4,695.5 L1174.0,696.7 L1176.9,691.7 L1179.1,691.0 L1180.7,692.6 L1182.5,691.7 L1188.2,692.6 L1189.7,695.5 L1192.7,676.4 L1195.6,671.9 L1196.0,642.6 L1197.8,651.6 L1199.4,649.4 L1202.8,648.2 L1205.0,638.1 L1207.7,634.7 L1210.7,611.1 L1213.6,572.8 L1215.4,549.1 L1216.8,567.2 L1218.6,575.0 L1220.8,563.3 L1223.1,578.4 L1225.3,579.5 L1229.8,579.5 L1231.6,582.9 L1232.5,580.7 L1234.8,596.4 L1237.7,599.8 L1247.8,599.8 L1249.6,602.1 L1251.2,600.3 L1254.6,637.7 L1258.0,637.7 L1261.8,615.1 L1264.7,633.6 L1266.3,621.2 L1268.1,623.5 L1270.4,622.3 L1272.2,630.7 L1275.5,630.7 L1278.9,602.1 L1281.6,606.6 L1284.3,610.0 L1289.5,610.0 L1290.6,601.6 L1292.9,619.0 L1294.7,620.1 L1296.3,605.5 L1297.8,605.0 L1299.6,584.5 L1302.3,589.7 L1304.1,586.3 L1306.8,563.8 L1309.8,589.7 L1314.3,589.7 L1316.1,591.3 L1317.7,589.7 L1319.9,595.3 L1321.7,563.8 L1324.4,575.0 L1327.8,576.2 L1330.7,566.5 L1333.4,584.1 L1335.7,580.7 L1337.9,585.2 L1340.2,584.1 L1342.4,586.3 L1344.7,589.7 L1349.2,590.4 L1351.0,591.9 L1352.6,589.7 L1355.9,589.7 L1358.6,630.2 L1361.6,622.3 L1363.8,619.0 L1366.1,626.8 L1368.3,622.3 L1370.6,623.5 L1373.5,626.8 L1375.8,621.2 L1378.5,608.8 L1381.8,600.5 L1390.0,600.5 L1394.7,601.4 L1399.5,609.7 L1401.8,587.9 L1404.2,593.1 L1406.1,602.6 L1408.9,601.4 L1410.8,595.5 L1413.7,596.7 L1417.2,596.7 L1420.7,584.1 L1423.1,590.7 L1425.0,588.4 L1427.4,603.8 L1429.0,604.9 L1431.4,594.3 L1433.0,593.1 L1434.9,610.9 L1436.8,653.4 L1439.7,659.3 L1442.0,654.6 L1443.9,657.0 L1445.6,653.4 L1447.9,683.0 L1449.1,693.6 L1451.0,673.5 L1453.4,639.2 L1455.0,647.5 L1457.4,645.1 L1459.8,651.1 L1463.3,653.4 L1465.7,657.0 L1468.1,660.5 L1471.6,661.7 L1475.1,660.5 L1479.9,659.3 L1484.6,664.1 L1485.8,653.4 L1488.2,635.7 L1490.5,639.2 L1492.4,664.1 L1494.1,655.8 L1501.2,655.8 L1504.7,652.7 L1511.8,652.7 L1515.4,680.6 L1517.7,673.5 L1520.1,670.0 L1522.5,672.3 L1526.0,679.4 L1528.4,679.4 L1531.2,675.9 L1533.1,709.0 L1537.8,713.7 L1541.4,730.3 L1544.9,727.9 L1547.3,732.7 L1549.6,739.8 L1552.0,709.0 L1553.2,675.9 L1555.6,655.8 L1557.5,639.2 L1559.8,668.8 L1561.5,667.6 L1563.8,655.8 L1565.5,649.9 L1566.9,667.6 L1569.3,659.3 L1572.1,645.1 L1575.0,641.6 L1577.3,639.2 L1579.2,645.1 L1581.6,659.3 L1583.9,667.6 L1586.3,664.1 L1588.2,665.3 L1590.6,691.3 L1593.4,716.1 L1595.8,735.0 L1598.1,749.2 L1600.5,746.8 L1602.9,732.7 L1605.2,706.6 L1608.8,699.5 L1611.1,690.1 L1613.5,706.6 L1615.2,725.6 L1617.5,720.8 L1620.6,717.3 L1624.9,713.7 L1624.9,848 Z" fill="url(#ag)"/>
<line x1="1143" y1="714" x2="1625" y2="714" stroke="#f4f4f4" stroke-width="1.4" stroke-dasharray="3 2"/>
<defs><linearGradient id="fd" x1="1625" x2="1780" y1="0" y2="0" gradientUnits="userSpaceOnUse"><stop offset="0" stop-color="#c8c8cc"/><stop offset="1" stop-color="#c8c8cc" stop-opacity="0"/></linearGradient></defs>
<rect x="1625" y="713.4" width="155" height="1.3" fill="url(#fd)" mask="url(#dm)"/>
<mask id="dm"><line x1="1625" y1="714" x2="1780" y2="714" stroke="#fff" stroke-width="2" stroke-dasharray="3 2"/></mask>
<circle cx="1143" cy="714" r="2.5" fill="#fff"/><circle cx="1625" cy="714" r="4" fill="#fff"/>
<path d="M1469.5,658 C1474,665 1482.5,668 1482.5,679.5 A13,13 0 1 1 1456.5,679.5 C1456.5,668 1465,665 1469.5,658 Z" fill="#ec7b5c"/>
<polyline points="1465,678 1469.5,682.5 1474,678" fill="none" stroke="#fbd9cf" stroke-width="1.4"/>
<circle cx="1469.5" cy="633.8" r="14.2" fill="#e33b56"/>
<text x="1469.5" y="639.5" text-anchor="middle" font-family="Liberation Sans, sans-serif" font-weight="bold" font-size="15" fill="#fff">¥</text>
<text x="1076" y="515.9" font-family="Liberation Sans, sans-serif" font-size="15" fill="#a6a7ab" textLength="46" lengthAdjust="spacingAndGlyphs">92.560</text>
<text x="1076" y="550.3" font-family="Liberation Sans, sans-serif" font-size="15" fill="#a6a7ab" textLength="46" lengthAdjust="spacingAndGlyphs">92.550</text>
<text x="1076" y="584.7" font-family="Liberation Sans, sans-serif" font-size="15" fill="#a6a7ab" textLength="46" lengthAdjust="spacingAndGlyphs">92.540</text>
<text x="1076" y="619.1" font-family="Liberation Sans, sans-serif" font-size="15" fill="#a6a7ab" textLength="46" lengthAdjust="spacingAndGlyphs">92.530</text>
<text x="1076" y="653.5" font-family="Liberation Sans, sans-serif" font-size="15" fill="#a6a7ab" textLength="46" lengthAdjust="spacingAndGlyphs">92.520</text>
<text x="1076" y="687.9" font-family="Liberation Sans, sans-serif" font-size="15" fill="#a6a7ab" textLength="46" lengthAdjust="spacingAndGlyphs">92.510</text>
<text x="1076" y="722.3" font-family="Liberation Sans, sans-serif" font-size="15" fill="#a6a7ab" textLength="46" lengthAdjust="spacingAndGlyphs">92.500</text>
<text x="1076" y="756.7" font-family="Liberation Sans, sans-serif" font-size="15" fill="#a6a7ab" textLength="46" lengthAdjust="spacingAndGlyphs">92.490</text>
<text x="1076" y="791.1" font-family="Liberation Sans, sans-serif" font-size="15" fill="#a6a7ab" textLength="46" lengthAdjust="spacingAndGlyphs">92.480</text>
<text x="1076" y="825.5" font-family="Liberation Sans, sans-serif" font-size="15" fill="#a6a7ab" textLength="46" lengthAdjust="spacingAndGlyphs">92.470</text>
<text x="1299" y="876.3" text-anchor="middle" font-family="Liberation Sans, sans-serif" font-size="15.5" fill="#a6a7ab">13:33</text>
<text x="1454" y="876.3" text-anchor="middle" font-family="Liberation Sans, sans-serif" font-size="15.5" fill="#a6a7ab">13:36</text>
<text x="1608" y="876.3" text-anchor="middle" font-family="Liberation Sans, sans-serif" font-size="15.5" fill="#a6a7ab">13:39</text>
<text x="1763" y="876.3" text-anchor="middle" font-family="Liberation Sans, sans-serif" font-size="15.5" fill="#a6a7ab">13:42</text>
</svg>
<div id="clock"><svg width="414" height="98" viewBox="1506 0 414 98" style="position:absolute;left:0;top:0"><defs><pattern id="lcd" x="1" y="2" width="5" height="5" patternUnits="userSpaceOnUse"><rect width="5" height="5" fill="#06cc06"/><rect x="0" y="0" width="5" height="1" fill="#14ff14"/><rect x="0" y="0" width="1" height="5" fill="#14ff14"/><rect x="4" y="4" width="1" height="1" fill="#047a04"/></pattern></defs><polygon points="1565.5,20.8 1567.5,22.2 1567.5,42.6 1561.3,48.1 1555.0,41.8 1555.0,30.7" fill="url(#lcd)" stroke="#000" stroke-width="0.4"/><polygon points="1565.5,76.8 1567.5,75.4 1567.5,54.6 1561.3,49.1 1555.0,55.4 1555.0,66.9" fill="url(#lcd)" stroke="#000" stroke-width="0.4"/><polygon points="1578.0,18.2 1612.0,18.2 1603.5,29.2 1586.5,29.2" fill="url(#lcd)" stroke="#000" stroke-width="0.4"/><polygon points="1614.0,20.8 1616.0,22.2 1616.0,42.6 1609.8,48.1 1603.5,41.8 1603.5,30.7" fill="url(#lcd)" stroke="#000" stroke-width="0.4"/><polygon points="1614.0,76.8 1616.0,75.4 1616.0,54.6 1609.8,49.1 1603.5,55.4 1603.5,66.9" fill="url(#lcd)" stroke="#000" stroke-width="0.4"/><polygon points="1578.0,79.4 1612.0,79.4 1603.5,68.1 1586.5,68.1" fill="url(#lcd)" stroke="#000" stroke-width="0.4"/><polygon points="1581.0,48.6 1587.3,41.7 1602.7,41.7 1609.4,48.6 1602.7,55.5 1587.3,55.5" fill="url(#lcd)" stroke="#000" stroke-width="0.4"/><polygon points="1676.0,18.2 1710.0,18.2 1701.5,29.2 1684.5,29.2" fill="url(#lcd)" stroke="#000" stroke-width="0.4"/><polygon points="1712.0,20.8 1714.0,22.2 1714.0,42.6 1707.8,48.1 1701.5,41.8 1701.5,30.7" fill="url(#lcd)" stroke="#000" stroke-width="0.4"/><polygon points="1712.0,76.8 1714.0,75.4 1714.0,54.6 1707.8,49.1 1701.5,55.4 1701.5,66.9" fill="url(#lcd)" stroke="#000" stroke-width="0.4"/><polygon points="1676.0,79.4 1710.0,79.4 1701.5,68.1 1684.5,68.1" fill="url(#lcd)" stroke="#000" stroke-width="0.4"/><polygon points="1679.0,48.6 1685.3,41.7 1700.7,41.7 1707.4,48.6 1700.7,55.5 1685.3,55.5" fill="url(#lcd)" stroke="#000" stroke-width="0.4"/><polygon points="1726.0,18.2 1760.0,18.2 1751.5,29.2 1734.5,29.2" fill="url(#lcd)" stroke="#000" stroke-width="0.4"/><polygon points="1762.0,20.8 1764.0,22.2 1764.0,42.6 1757.8,48.1 1751.5,41.8 1751.5,30.7" fill="url(#lcd)" stroke="#000" stroke-width="0.4"/><polygon points="1762.0,76.8 1764.0,75.4 1764.0,54.6 1757.8,49.1 1751.5,55.4 1751.5,66.9" fill="url(#lcd)" stroke="#000" stroke-width="0.4"/><polygon points="1726.0,79.4 1760.0,79.4 1751.5,68.1 1734.5,68.1" fill="url(#lcd)" stroke="#000" stroke-width="0.4"/><polygon points="1724.0,20.8 1722.0,22.2 1722.0,42.6 1728.2,48.1 1734.5,41.8 1734.5,30.7" fill="url(#lcd)" stroke="#000" stroke-width="0.4"/><polygon points="1729.0,48.6 1735.3,41.7 1750.7,41.7 1757.4,48.6 1750.7,55.5 1735.3,55.5" fill="url(#lcd)" stroke="#000" stroke-width="0.4"/><polygon points="1816.0,18.2 1850.0,18.2 1841.5,29.2 1824.5,29.2" fill="url(#lcd)" stroke="#000" stroke-width="0.4"/><polygon points="1852.0,20.8 1854.0,22.2 1854.0,42.6 1847.8,48.1 1841.5,41.8 1841.5,30.7" fill="url(#lcd)" stroke="#000" stroke-width="0.4"/><polygon points="1816.0,79.4 1850.0,79.4 1841.5,68.1 1824.5,68.1" fill="url(#lcd)" stroke="#000" stroke-width="0.4"/><polygon points="1814.0,76.8 1812.0,75.4 1812.0,54.6 1818.2,49.1 1824.5,55.4 1824.5,66.9" fill="url(#lcd)" stroke="#000" stroke-width="0.4"/><polygon points="1819.0,48.6 1825.3,41.7 1840.7,41.7 1847.4,48.6 1840.7,55.5 1825.3,55.5" fill="url(#lcd)" stroke="#000" stroke-width="0.4"/><polygon points="1864.5,18.2 1898.5,18.2 1890.0,29.2 1873.0,29.2" fill="url(#lcd)" stroke="#000" stroke-width="0.4"/><polygon points="1900.5,20.8 1902.5,22.2 1902.5,42.6 1896.3,48.1 1890.0,41.8 1890.0,30.7" fill="url(#lcd)" stroke="#000" stroke-width="0.4"/><polygon points="1864.5,79.4 1898.5,79.4 1890.0,68.1 1873.0,68.1" fill="url(#lcd)" stroke="#000" stroke-width="0.4"/><polygon points="1862.5,76.8 1860.5,75.4 1860.5,54.6 1866.7,49.1 1873.0,55.4 1873.0,66.9" fill="url(#lcd)" stroke="#000" stroke-width="0.4"/><polygon points="1867.5,48.6 1873.8,41.7 1889.2,41.7 1895.9,48.6 1889.2,55.5 1873.8,55.5" fill="url(#lcd)" stroke="#000" stroke-width="0.4"/><rect x="1638.2" y="29.3" width="11.6" height="12.3" fill="url(#lcd)"/><rect x="1638.2" y="55.6" width="11.6" height="12.3" fill="url(#lcd)"/><rect x="1786" y="29.3" width="11.6" height="12.3" fill="url(#lcd)"/><rect x="1786" y="55.6" width="11.6" height="12.3" fill="url(#lcd)"/></svg></div>
</body></html>
